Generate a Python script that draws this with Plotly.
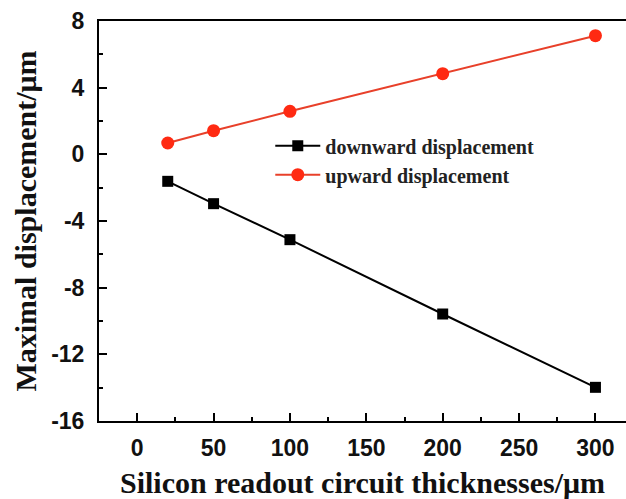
import plotly.graph_objects as go

thickness = [20, 50, 100, 200, 300]
downward = [-1.62, -2.96, -5.12, -9.58, -13.98]
upward = [0.68, 1.42, 2.58, 4.84, 7.12]
series_names = ["downward displacement", "upward displacement"]
x_ticks = [0, 50, 100, 150, 200, 250, 300]
y_ticks = [-16, -12, -8, -4, 0, 4, 8]
x_title = "Silicon readout circuit thicknesses/μm"
y_title = "Maximal displacement/μm"

fig = go.Figure()
fig.add_trace(go.Scatter(
    x=thickness, y=downward, name=series_names[0], mode="lines+markers",
    line=dict(color="black", width=2),
    marker=dict(symbol="square", size=11, color="black"),
))
fig.add_trace(go.Scatter(
    x=thickness, y=upward, name=series_names[1], mode="lines+markers",
    line=dict(color="#e8402a", width=2),
    marker=dict(symbol="circle", size=13, color="#ff2a12"),
))

tickfont = dict(family="Liberation Sans", size=23, color="#111", weight="bold")

fig.update_layout(
    width=626, height=499,
    margin=dict(l=99, r=0, t=21, b=78, autoexpand=False),
    paper_bgcolor="white", plot_bgcolor="white",
    showlegend=True,
    legend=dict(x=0.325, y=0.652, xanchor="left", yanchor="middle",
                font=dict(family="Liberation Serif", size=20, color="#222", weight="bold"),
                bgcolor="rgba(0,0,0,0)", tracegroupgap=0, itemwidth=45),
    xaxis=dict(
        range=[-25, 320], tickvals=x_ticks,
        ticktext=[str(v) for v in x_ticks],
        ticks="inside", ticklen=8, tickwidth=2, tickcolor="black",
        minor=dict(ticks="inside", ticklen=4, tickwidth=2, tickcolor="black", dtick=25, showgrid=False),
        showline=True, linecolor="black", linewidth=2, mirror=True,
        showgrid=False, zeroline=False, ticklabelstandoff=5,
        tickfont=tickfont,
        title=dict(text=x_title,
                   font=dict(family="Liberation Serif", size=30, color="#111", weight="bold"), standoff=12),
    ),
    yaxis=dict(
        range=[-16, 8], tickvals=y_ticks,
        ticktext=[str(v) for v in y_ticks],
        ticks="inside", ticklen=8, tickwidth=2, tickcolor="black",
        minor=dict(ticks="inside", ticklen=4, tickwidth=2, tickcolor="black", dtick=2, showgrid=False),
        showline=True, linecolor="black", linewidth=2, mirror=False,
        showgrid=False, zeroline=False, ticklabelstandoff=8,
        tickfont=tickfont,
        title=dict(text=y_title,
                   font=dict(family="Liberation Serif", size=30, color="#111", weight="bold"), standoff=6),
    ),
)

fig.write_html("out.html")
